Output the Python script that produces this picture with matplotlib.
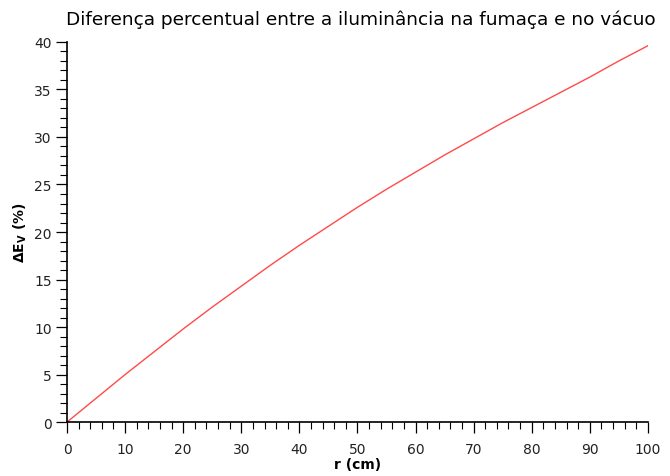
import numpy as np
import matplotlib.pyplot as plt
from matplotlib.ticker import MultipleLocator

# distancia percorrida na fumaca (cm) e diferenca percentual de iluminancia
r_cm = [0, 5, 10, 15, 20, 25, 30, 35, 40, 45, 50,
        55, 60, 65, 70, 75, 80, 85, 90, 95, 100]
delta_ev = [0.0, 2.5, 5.0, 7.4, 9.8, 12.1, 14.3, 16.5, 18.6, 20.6, 22.6,
            24.5, 26.3, 28.1, 29.8, 31.5, 33.1, 34.7, 36.3, 38.0, 39.6]

fig = plt.figure(figsize=(6.7, 4.77), dpi=100)
ax = fig.add_axes([0.1, 0.113, 0.867, 0.797])

ax.plot(r_cm, delta_ev, color='#ff4a4a', linewidth=1.0)

ax.set_xlim(0, 100)
ax.set_ylim(0, 40)
ax.xaxis.set_major_locator(MultipleLocator(10))
ax.xaxis.set_minor_locator(MultipleLocator(2))
ax.yaxis.set_major_locator(MultipleLocator(5))
ax.yaxis.set_minor_locator(MultipleLocator(1))

for side in ('top', 'right'):
    ax.spines[side].set_visible(False)
for side in ('left', 'bottom'):
    ax.spines[side].set_linewidth(1.2)

ax.tick_params(which='major', direction='out', length=8, width=0.9,
               labelsize=10, pad=3, labelcolor='#222222')
ax.tick_params(axis='x', which='major', pad=6)
ax.tick_params(which='minor', direction='out', length=5, width=0.8)

ax.set_xlabel('r (cm)', fontsize=10, fontweight='bold', labelpad=1)
ax.set_ylabel(r'ΔE$_{\mathbf{V}}$ (%)', fontsize=10, fontweight='bold', labelpad=4)
ax.set_title('Diferença percentual entre a iluminância na fumaça e no vácuo',
             fontsize=13.3, pad=13, x=0.505)

fig.savefig('out.png', dpi=100)
